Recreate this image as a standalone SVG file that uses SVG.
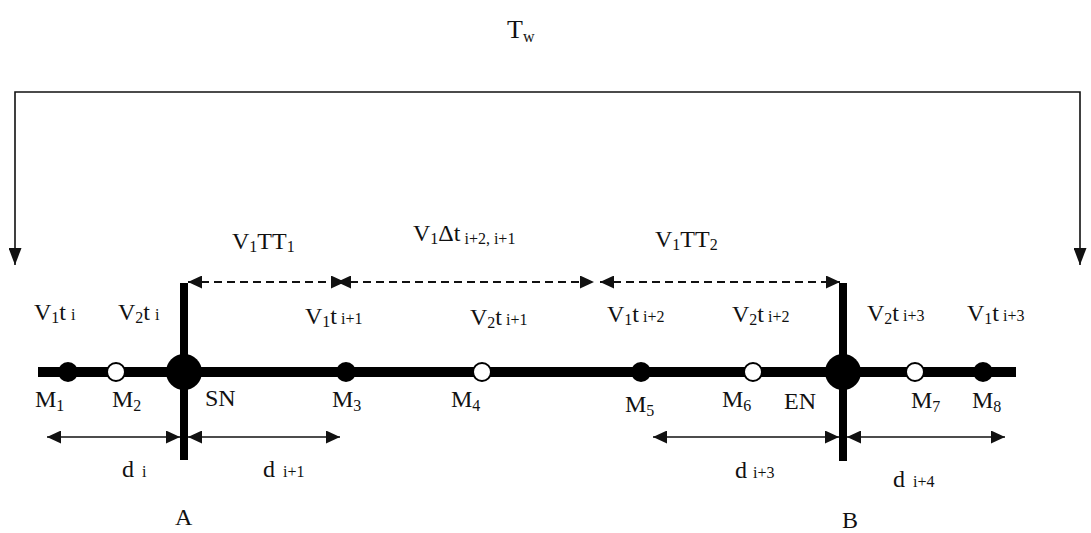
<svg xmlns="http://www.w3.org/2000/svg" width="1091" height="533" viewBox="0 0 1091 533">
<style>
text{font-family:"Liberation Serif","Times New Roman",serif;fill:#111;font-size:24px}
.s{font-size:16px}
.thin{fill:none;stroke:#111;stroke-width:1.6}
.dash{fill:none;stroke:#111;stroke-width:2;stroke-dasharray:8 5}
.bar{stroke:#000;stroke-width:8}
.full{fill:#000}
.open{fill:#fff;stroke:#000;stroke-width:2}
</style>
<defs>
<marker id="big" markerUnits="userSpaceOnUse" markerWidth="18" markerHeight="13" refX="17" refY="6.5" orient="auto-start-reverse"><path d="M0,0 L17,6.5 L0,13 z" fill="#111"/></marker>
<marker id="ah" markerUnits="userSpaceOnUse" markerWidth="15" markerHeight="13" refX="14" refY="6.5" orient="auto-start-reverse"><path d="M0,0 L14,6.5 L0,13 z" fill="#111"/></marker>
</defs>
<rect width="1091" height="533" fill="#fff"/>
<text x="507" y="38" style="font-size:26px">T<tspan class="s" dy="4">w</tspan></text>
<g id="connectors">
<path class="thin" d="M15,265 V92 H1080 V265" marker-start="url(#big)" marker-end="url(#big)"/>
<path class="dash" d="M188,282 H345" marker-start="url(#ah)" marker-end="url(#ah)"/>
<path class="dash" d="M337,282 H594" marker-start="url(#ah)" marker-end="url(#ah)"/>
<path class="dash" d="M600,282 H840" marker-start="url(#ah)" marker-end="url(#ah)"/>
<path class="thin" d="M47,437 H180" marker-start="url(#ah)" marker-end="url(#ah)"/>
<path class="thin" d="M188,437 H340" marker-start="url(#ah)" marker-end="url(#ah)"/>
<path class="thin" d="M653,437 H839" marker-start="url(#ah)" marker-end="url(#ah)"/>
<path class="thin" d="M847,437 H1005" marker-start="url(#ah)" marker-end="url(#ah)"/>
</g>
<g id="road"><line x1="38" y1="372" x2="1016" y2="372" stroke="#000" stroke-width="10"/></g>
<g id="labels">
<text x="232" y="249">V<tspan class="s" dy="3">1</tspan><tspan dy="-3">TT</tspan><tspan class="s" dy="3">1</tspan></text>
<text x="413" y="241">V<tspan class="s" dy="3">1</tspan><tspan dy="-3">Δt</tspan><tspan class="s" dy="3" dx="4">i+2, i+1</tspan></text>
<text x="655" y="247">V<tspan class="s" dy="3">1</tspan><tspan dy="-3">TT</tspan><tspan class="s" dy="3">2</tspan></text>
<text x="34" y="320">V<tspan class="s" dy="3">1</tspan><tspan dy="-3">t</tspan><tspan class="s" dx="5">i</tspan></text>
<text x="118" y="320">V<tspan class="s" dy="3">2</tspan><tspan dy="-3">t</tspan><tspan class="s" dx="5">i</tspan></text>
<text x="305" y="324">V<tspan class="s" dy="3">1</tspan><tspan dy="-3">t</tspan><tspan class="s" dx="4">i+1</tspan></text>
<text x="470" y="325">V<tspan class="s" dy="3">2</tspan><tspan dy="-3">t</tspan><tspan class="s" dx="4">i+1</tspan></text>
<text x="607" y="322">V<tspan class="s" dy="3">1</tspan><tspan dy="-3">t</tspan><tspan class="s" dx="4">i+2</tspan></text>
<text x="732" y="322">V<tspan class="s" dy="3">2</tspan><tspan dy="-3">t</tspan><tspan class="s" dx="4">i+2</tspan></text>
<text x="867" y="321">V<tspan class="s" dy="3">2</tspan><tspan dy="-3">t</tspan><tspan class="s" dx="4">i+3</tspan></text>
<text x="967" y="321">V<tspan class="s" dy="3">1</tspan><tspan dy="-3">t</tspan><tspan class="s" dx="4">i+3</tspan></text>
<text x="122" y="477">d<tspan class="s" dx="8">i</tspan></text>
<text x="263" y="477">d<tspan class="s" dx="8">i+1</tspan></text>
<text x="735" y="478">d<tspan class="s" dx="6">i+3</tspan></text>
<text x="893" y="487">d<tspan class="s" dx="8">i+4</tspan></text>
</g>
<g id="A"><line class="bar" x1="184" y1="283" x2="184" y2="460"/><circle class="full" cx="184" cy="372" r="18"/><text x="205" y="406">SN</text><text x="175" y="525">A</text></g>
<g id="B"><line class="bar" x1="843" y1="283" x2="843" y2="461"/><circle class="full" cx="843" cy="372" r="18"/><text x="784" y="409">EN</text><text x="842" y="528">B</text></g>
<g id="M1"><circle class="full" cx="68" cy="372" r="10"/><text x="35" y="407">M<tspan class="s" dy="4">1</tspan></text></g>
<g id="M2"><circle class="open" cx="116" cy="372" r="9"/><text x="112" y="407">M<tspan class="s" dy="4">2</tspan></text></g>
<g id="M3"><circle class="full" cx="346" cy="372" r="10"/><text x="332" y="407">M<tspan class="s" dy="4">3</tspan></text></g>
<g id="M4"><circle class="open" cx="482" cy="372" r="9"/><text x="451" y="407">M<tspan class="s" dy="4">4</tspan></text></g>
<g id="M5"><circle class="full" cx="641" cy="372" r="10"/><text x="625" y="412">M<tspan class="s" dy="4">5</tspan></text></g>
<g id="M6"><circle class="open" cx="753" cy="372" r="9"/><text x="722" y="407">M<tspan class="s" dy="4">6</tspan></text></g>
<g id="M7"><circle class="open" cx="915" cy="372" r="9"/><text x="911" y="408">M<tspan class="s" dy="4">7</tspan></text></g>
<g id="M8"><circle class="full" cx="983" cy="372" r="10"/><text x="972" y="408">M<tspan class="s" dy="4">8</tspan></text></g>
</svg>
